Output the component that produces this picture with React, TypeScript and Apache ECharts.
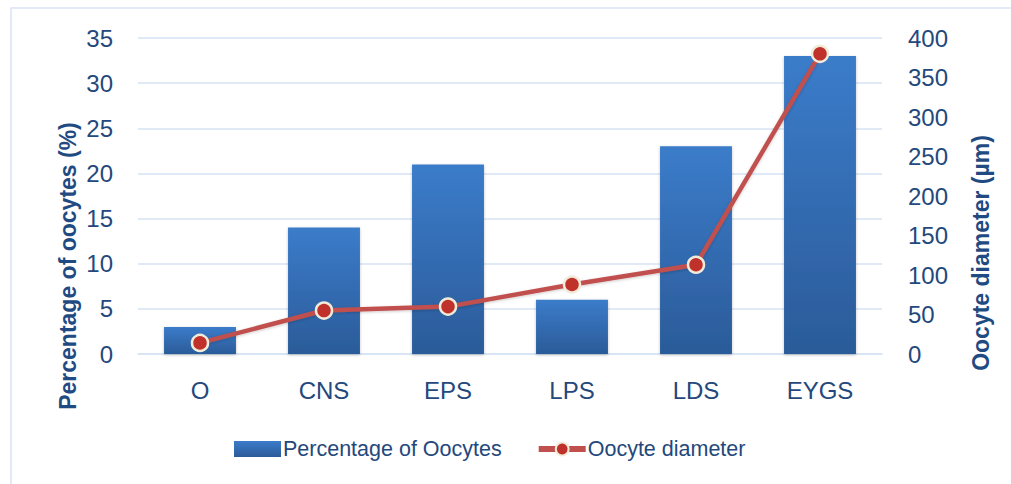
import React, { useEffect, useRef } from "react";
import * as echarts from "echarts";

const categories = ["O", "CNS", "EPS", "LPS", "LDS", "EYGS"];
const percentValues = [3, 14, 21, 6, 23, 33];
const diameterValues = [14, 55, 60, 88, 113, 380];
const leftTicks = { min: 0, max: 35, interval: 5 };
const rightTicks = { min: 0, max: 400, interval: 50 };

const FONT = "'Liberation Sans', Arial, sans-serif";
const TXT = "#24487c";
const TITLE = "#1f4a82";

export default function App() {
  const ref = useRef<HTMLDivElement>(null);
  useEffect(() => {
    if (!ref.current) return;
    const chart = echarts.init(ref.current, null, { renderer: "svg" });
    chart.setOption({
      animation: false,
      backgroundColor: "#ffffff",
      textStyle: { fontFamily: FONT },
      grid: { left: 138, right: 129, top: 38, bottom: 130, containLabel: false },
      legend: {
        left: 229,
        top: 433,
        itemGap: 34,
        itemWidth: 47,
        itemHeight: 16,
        textStyle: { color: TXT, fontSize: 21.5, fontFamily: FONT, padding: [0, 0, 0, -3] },
        data: [
          { name: "Percentage of Oocytes", icon: "rect" },
          {
            name: "Oocyte diameter",
            lineStyle: { width: 6, color: "#c0504d" },
            itemStyle: { color: "#c1312c", borderColor: "#f1ebd9", borderWidth: 2 },
          },
        ],
      },
      xAxis: {
        type: "category",
        data: categories,
        axisLine: { show: true, lineStyle: { color: "#d6e3f4", width: 1.5 } },
        axisTick: { show: false },
        axisLabel: { color: TXT, fontSize: 24, fontFamily: FONT, margin: 24 },
      },
      yAxis: [
        {
          type: "value",
          ...leftTicks,
          axisLine: { show: false },
          axisTick: { show: false },
          splitLine: { lineStyle: { color: "#d6e3f4", width: 1.5 } },
          axisLabel: { color: TXT, fontSize: 24, fontFamily: FONT, margin: 25 },
        },
        {
          type: "value",
          ...rightTicks,
          axisLine: { show: false },
          axisTick: { show: false },
          splitLine: { show: false },
          axisLabel: { color: TXT, fontSize: 24, fontFamily: FONT, margin: 26 },
        },
      ],
      series: [
        {
          name: "Percentage of Oocytes",
          type: "bar",
          yAxisIndex: 0,
          data: percentValues,
          barWidth: "58%",
          itemStyle: {
            color: new echarts.graphic.LinearGradient(0, 0, 0, 1, [
              { offset: 0, color: "#3b7cca" },
              { offset: 1, color: "#2b5b99" },
            ]),
            shadowColor: "rgba(0,0,0,0.25)",
            shadowBlur: 3,
            shadowOffsetY: 1,
          },
        },
        {
          name: "Oocyte diameter",
          type: "line",
          yAxisIndex: 1,
          data: diameterValues,
          symbol: "circle",
          symbolSize: 16,
          lineStyle: {
            color: "#c0504d",
            width: 4.5,
            shadowColor: "rgba(0,0,0,0.2)",
            shadowBlur: 3,
            shadowOffsetY: 1,
          },
          itemStyle: {
            color: "#c1312c",
            borderColor: "#f1ebd9",
            borderWidth: 2.5,
          },
          z: 3,
        },
      ],
      graphic: [
        {
          type: "rect",
          silent: true,
          shape: { x: 11, y: 8, width: 1100, height: 600 },
          style: { fill: "none", stroke: "#d8e4f3", lineWidth: 1.5 },
        },
        {
          type: "text",
          x: 68,
          y: 266,
          rotation: Math.PI / 2,
          style: {
            text: "Percentage of oocytes (%)",
            fill: TITLE,
            font: `bold 23px ${FONT}`,
            align: "center",
            verticalAlign: "middle",
          },
        },
        {
          type: "text",
          x: 981,
          y: 253,
          rotation: Math.PI / 2,
          style: {
            text: "Oocyte diameter (µm)",
            fill: TITLE,
            font: `bold 23px ${FONT}`,
            align: "center",
            verticalAlign: "middle",
          },
        },
      ],
    });
    return () => chart.dispose();
  }, []);
  return (
    <div
      ref={ref}
      style={{ position: "fixed", left: 0, top: 0, width: 1011, height: 484 }}
    />
  );
}
